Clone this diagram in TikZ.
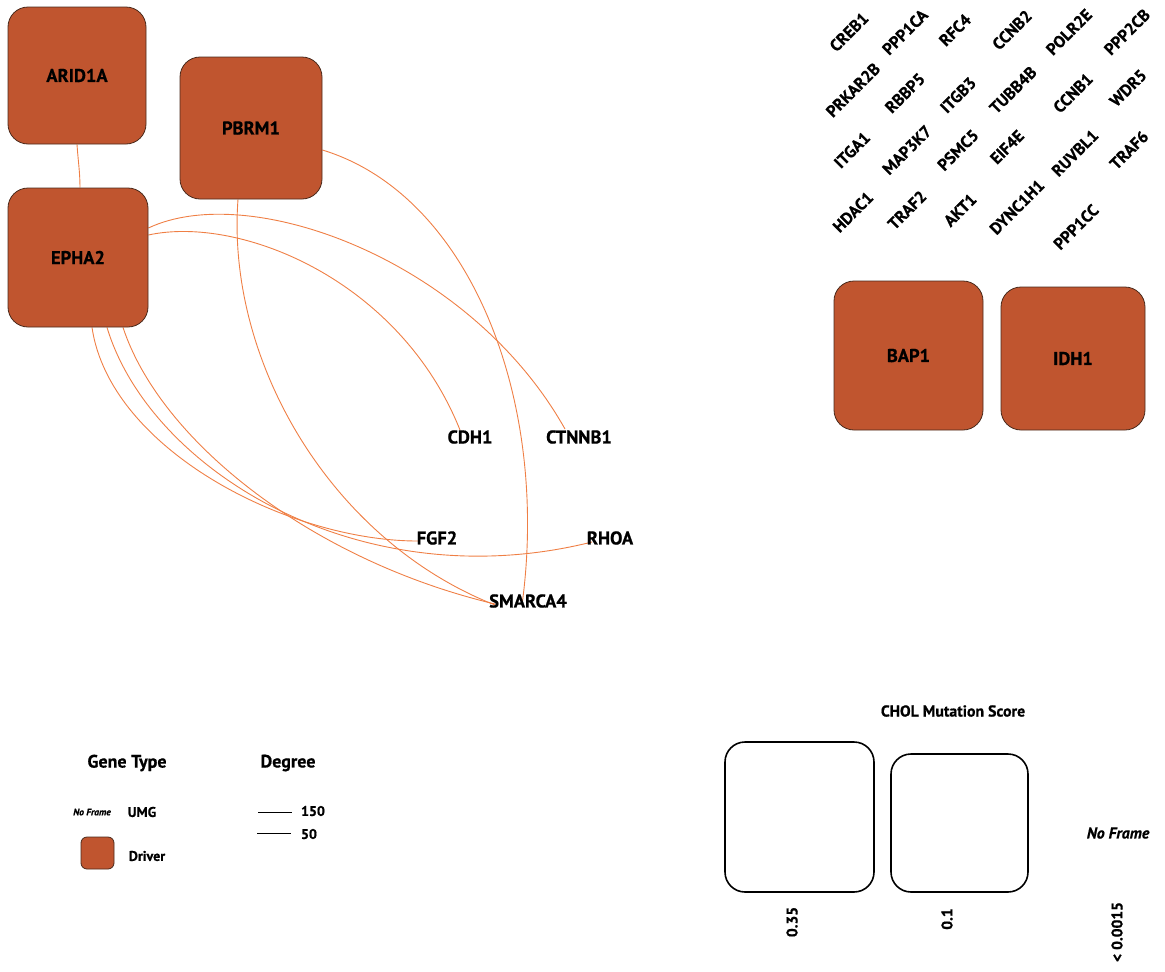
\documentclass[tikz,border=0pt]{standalone}
\usepackage{fontspec}
\setmainfont{PT Sans}[BoldFeatures={FakeBold=0.7}, BoldItalicFeatures={FakeBold=0.7}]
\usetikzlibrary{backgrounds,calc}

\definecolor{driverfill}{HTML}{C0552F}
\definecolor{driverline}{HTML}{4A2A1C}
\definecolor{edgecol}{HTML}{EF7F45}

\tikzset{
  driver/.style={draw=driverline, line width=0.8pt, fill=driverfill,
    rounded corners=20pt, inner sep=0pt,
    font=\bfseries\fontsize{18.5}{21}\selectfont},
  gene/.style={inner sep=0pt, font=\bfseries\fontsize{18.5}{21}\selectfont},
  umg/.style={inner sep=0pt, rotate=45, font=\bfseries\fontsize{16.5}{19}\selectfont},
  link/.style={draw=edgecol, line width=0.9pt},
  legtitle/.style={inner sep=0pt, font=\bfseries\fontsize{18}{21}\selectfont},
  legtext/.style={inner sep=0pt, font=\bfseries\fontsize{14}{16}\selectfont},
  scoretext/.style={inner sep=0pt, font=\bfseries\fontsize{15.5}{18}\selectfont},
  scorebox/.style={draw=black, line width=1.6pt, rounded corners=20pt, fill=white},
  degline/.style={draw=black, line width=0.8pt},
}

\begin{document}
\begin{tikzpicture}[x=1pt, y=-1pt]
\useasboundingbox (0,0) rectangle (1165,972);

% driver genes
\node[driver, minimum width=138pt, minimum height=137pt] (arid1a) at (77,75.5) {ARID1A};
\node[driver, minimum width=142pt, minimum height=142pt] (pbrm1) at (251,128) {PBRM1};
\node[driver, minimum width=140pt, minimum height=139pt] (epha2) at (78,257.5) {EPHA2};
\node[driver, minimum width=149pt, minimum height=149pt] (bap1) at (908.5,355.5) {BAP1};
\node[driver, minimum width=144pt, minimum height=143pt] (idh1) at (1073,358.5) {IDH1};

% unframed genes of the network
\node[gene] (cdh1) at (470,437) {CDH1};
\node[gene] (ctnnb1) at (579,437) {CTNNB1};
\node[gene] (fgf2) at (437,538) {FGF2};
\node[gene] (rhoa) at (610,538) {RHOA};
\node[gene] (smarca4) at (528,601) {SMARCA4};

% interactions
\begin{pgfonlayer}{background}
\draw[link] (arid1a.south) .. controls (78,160) and (80,172) .. ([xshift=2pt]epha2.north);
\draw[link] ([xshift=-13pt]pbrm1.south) .. controls (226,360) and (330,540) .. ([xshift=-33pt,yshift=-4pt]smarca4.center);
\draw[link] ([yshift=-22pt]pbrm1.east) .. controls (470,195) and (550,400) .. ([xshift=-6pt,yshift=-4pt]smarca4.center);
\draw[link] ([yshift=29.5pt]epha2.east) .. controls (250,180) and (470,260) .. ([xshift=-14pt,yshift=8pt]ctnnb1.center);
\draw[link] ([yshift=22.5pt]epha2.east) .. controls (240,215) and (400,280) .. ([xshift=-10pt,yshift=7pt]cdh1.center);
\draw[link] ([xshift=14pt]epha2.south) .. controls (110,450) and (290,542) .. ([xshift=-17pt,yshift=-3pt]fgf2.center);
\draw[link] ([xshift=29pt]epha2.south) .. controls (150,470) and (360,600) .. ([xshift=-18pt,yshift=-4pt]rhoa.center);
\draw[link] ([xshift=45pt]epha2.south) .. controls (160,440) and (310,560) .. ([xshift=-33pt,yshift=-3pt]smarca4.center);
\end{pgfonlayer}

% unconnected genes
\node[umg] (creb1)   at (849,32)  {CREB1};
\node[umg] (ppp1ca)  at (905,32)  {PPP1CA};
\node[umg] (rfc4)    at (955,30)  {RFC4};
\node[umg] (ccnb2)   at (1012,30) {CCNB2};
\node[umg] (polr2e)  at (1069,32) {POLR2E};
\node[umg] (ppp2cb)  at (1127,32) {PPP2CB};
\node[umg] (prkar2b) at (853,90)  {PRKAR2B};
\node[umg] (rbbp5)   at (905,93)  {RBBP5};
\node[umg] (itgb3)   at (958,95)  {ITGB3};
\node[umg] (tubb4b)  at (1013,90) {TUBB4B};
\node[umg] (ccnb1)   at (1073,93) {CCNB1};
\node[umg] (wdr5)    at (1128,88) {WDR5};
\node[umg] (itga1)   at (852,150) {ITGA1};
\node[umg] (map3k7)  at (907,150) {MAP3K7};
\node[umg] (psmc5)   at (958,150) {PSMC5};
\node[umg] (eif4e)   at (1007,147) {EIF4E};
\node[umg] (ruvbl1)  at (1075,153) {RUVBL1};
\node[umg] (traf6)   at (1129,150) {TRAF6};
\node[umg] (hdac1)   at (853,212) {HDAC1};
\node[umg] (traf2)   at (907,210) {TRAF2};
\node[umg] (akt1)    at (960,210) {AKT1};
\node[umg] (dync1h1) at (1017,207) {DYNC1H1};
\node[umg] (ppp1cc)  at (1076,227) {PPP1CC};

% legend: gene type
\node[legtitle] (gtTitle) at (127,763) {Gene Type};
\node[inner sep=0pt, font=\bfseries\itshape\fontsize{9.5}{11}\selectfont] (noframeA) at (92,812) {No Frame};
\node[legtext] (umgLab) at (142,812) {UMG};
\node[driver, rounded corners=6pt, minimum width=33pt, minimum height=32pt] (drvKey) at (97.5,853) {};
\node[legtext] (drvLab) at (147,856) {Driver};

% legend: degree
\node[legtitle] (degTitle) at (288,763) {Degree};
\node[legtext] (deg150) at (313,811) {150};
\node[legtext] (deg50) at (309,834) {50};
\coordinate (deg150a) at (258,812);
\coordinate (deg50a) at (257,833);
\draw[degline] (deg150a) -- ++(34,0);
\draw[degline] (deg50a) -- ++(34,0);

% legend: mutation score
\node[inner sep=0pt, font=\bfseries\fontsize{15.8}{18}\selectfont] (scoreTitle) at (953,711) {CHOL Mutation Score};
\node[scorebox, minimum width=149pt, minimum height=150pt] (scoreHi) at (799.5,817) {};
\node[scorebox, minimum width=137pt, minimum height=138pt] (scoreMid) at (959.5,823) {};
\node[inner sep=0pt, font=\bfseries\itshape\fontsize{15.8}{18}\selectfont] (noframeB) at (1118,833) {No Frame};
\node[scoretext, rotate=90] (s035) at (792,922) {0.35};
\node[scoretext, rotate=90] (s01) at (947,919) {0.1};
\node[scoretext, rotate=90] (s0015) at (1117,932) {< 0.0015};
\end{tikzpicture}
\end{document}
